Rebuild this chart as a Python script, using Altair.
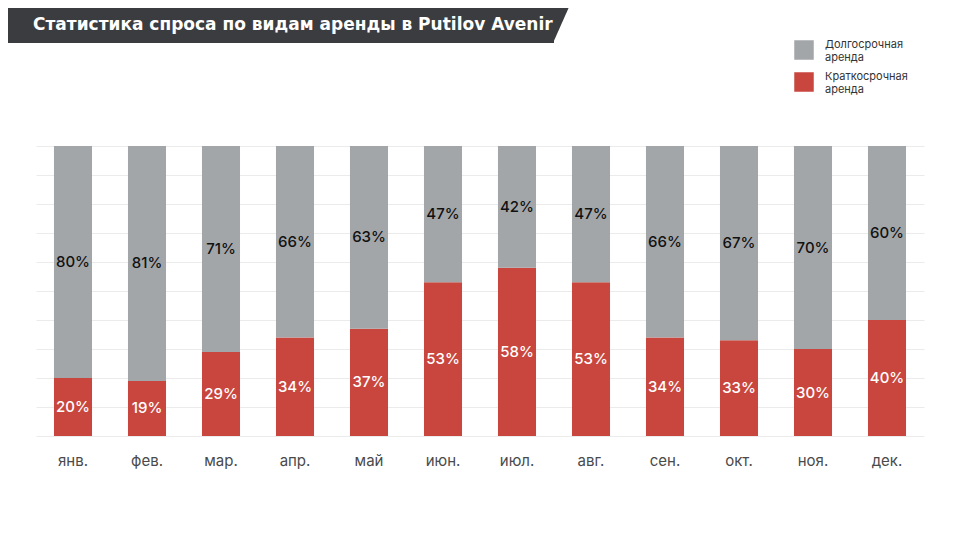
import altair as alt
import pandas as pd

FONT = "Inter"

months = ["янв.", "фев.", "мар.", "апр.", "май", "июн.", "июл.", "авг.", "сен.", "окт.", "ноя.", "дек."]
long_term = [80, 81, 71, 66, 63, 47, 42, 47, 66, 67, 70, 60]
short_term = [20, 19, 29, 34, 37, 53, 58, 53, 34, 33, 30, 40]
series = ["Долгосрочная аренда", "Краткосрочная аренда"]
colors = ["#a3a6a9", "#c9463e"]
title_text = "Статистика спроса по видам аренды в Putilov Avenir"
grid_values = [0, 10, 20, 30, 40, 50, 60, 70, 80, 90, 100]

rows = []
for m, l, s in zip(months, long_term, short_term):
    rows.append({"month": m, "series": series[1], "value": s, "ord": 0, "lab": f"{s}%"})
    rows.append({"month": m, "series": series[0], "value": l, "ord": 1, "lab": f"{l}%"})
df = pd.DataFrame(rows)

W, H = 888, 290

x_axis = alt.Axis(
    title=None, labelAngle=0, ticks=False, domain=False, labelPadding=17,
    labelFontSize=15, labelColor="#4a4a4a", labelFont=FONT, grid=False,
)
y_axis = alt.Axis(
    title=None, labels=False, ticks=False, domain=False,
    values=grid_values, gridColor="#ebebeb", gridWidth=1,
)
x_scale = alt.Scale(paddingInner=0.486, paddingOuter=0.243)
y_scale = alt.Scale(domain=[0, 100], nice=False)

bars = alt.Chart(df).mark_bar().encode(
    x=alt.X("month:N", sort=months, scale=x_scale, axis=x_axis),
    y=alt.Y("value:Q", stack="zero", scale=y_scale, axis=y_axis),
    color=alt.Color(
        "series:N",
        scale=alt.Scale(domain=series, range=colors),
        legend=alt.Legend(
            orient="none", legendX=758, legendY=-106, title=None,
            symbolType="square", symbolSize=380, symbolStrokeWidth=0, symbolOpacity=1,
            labelFontSize=11, labelFont=FONT, labelColor="#333333", labelOffset=11,
            labelBaseline="bottom",
            rowPadding=8, labelLimit=300, labelExpr="split(datum.label, ' ')",
        ),
    ),
    order=alt.Order("ord:Q"),
)

labels = alt.Chart(df).transform_stack(
    stack="value", groupby=["month"], sort=[alt.SortField("ord")], as_=["v0", "v1"]
).transform_calculate(
    mid="(datum.v0 + datum.v1) / 2"
).mark_text(font=FONT, fontSize=15, fontWeight=500).encode(
    x=alt.X("month:N", sort=months, scale=x_scale, axis=x_axis),
    y=alt.Y("mid:Q", scale=y_scale, axis=y_axis),
    text="lab:N",
    color=alt.condition("datum.ord == 0", alt.value("#ffffff"), alt.value("#111111")),
)

one = alt.Data(values=[{"a": 1}])
banner = alt.Chart(one).mark_rect(color="#3b3c40").encode(
    x=alt.value(-28), x2=alt.value(518), y=alt.value(-138), y2=alt.value(-103)
)
triangle = alt.Chart(one).mark_point(
    shape="M-1,-1L-0.11,-1L-1,1Z", filled=True, size=1225, color="#3b3c40",
    opacity=1, strokeWidth=0,
).encode(x=alt.value(534.5), y=alt.value(-120.5))
title = alt.Chart(one).mark_text(
    text=title_text, font="DejaVu Sans", fontSize=17, fontWeight="bold", color="#ffffff",
    align="left", baseline="alphabetic",
).encode(x=alt.value(-3), y=alt.value(-116))

chart = alt.layer(bars, labels, banner, triangle, title).properties(
    width=W, height=H,
    padding={"left": 28, "top": 138, "right": 36, "bottom": 100},
    autosize=alt.AutoSizeParams(type="none"),
    background="#ffffff",
).configure_view(stroke=None)

chart.save("out.html", embed_options={"renderer": "svg", "actions": False})
